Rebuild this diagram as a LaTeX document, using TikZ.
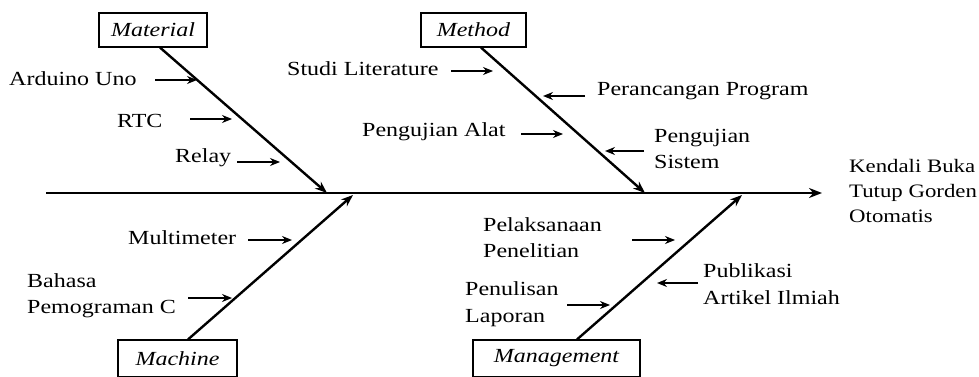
\documentclass[tikz,border=0pt]{standalone}
\usepackage{fontspec}
\setmainfont{Liberation Serif}[FakeStretch=1.2]
\usetikzlibrary{arrows.meta}
\begin{document}
\begin{tikzpicture}[x=1pt,y=-1pt,
  every node/.style={font=\fontsize{20}{26}\selectfont, inner sep=0pt},
  lbl/.style={anchor=base west, align=left},
  catbox/.style={draw, line width=1.1pt, font=\fontsize{20}{26}\selectfont\itshape},
  bone/.style={line width=2.4pt, -{Stealth[length=12pt,width=9pt]}},
  spine/.style={line width=2.4pt, -{Stealth[length=13pt,width=10pt]}},
  sarr/.style={line width=1.3pt, -{Stealth[length=10pt,width=8pt]}}]
\useasboundingbox (0,0) rectangle (979,377);
% category boxes
\node[catbox, minimum width=108pt, minimum height=34pt] (mat) at (153,30) {Material};
\node[catbox, minimum width=105pt, minimum height=34pt] (met) at (473.5,30) {Method};
\node[catbox, minimum width=119pt, minimum height=37pt] (mac) at (177.5,358.5) {Machine};
\node[catbox, minimum width=167pt, minimum height=37pt] (man) at (556.5,358.5) {Management};
% spine
\coordinate (sp0) at (46,193);
\coordinate (sp1) at (822,193);
\draw[spine] (sp0) -- (sp1);
\node[lbl, font=\fontsize{19}{25}\selectfont] (eff) at (849,222) {Kendali Buka\\Tutup Gorden\\Otomatis};
% bones
\coordinate (b1) at (327,193);
\coordinate (b2) at (645,193);
\coordinate (b3) at (353,195);
\coordinate (b4) at (742,195);
\draw[bone] ([xshift=7pt]mat.south) -- (b1);
\draw[bone] ([xshift=7.5pt]met.south) -- (b2);
\draw[bone] ([xshift=10.5pt]mac.north) -- (b3);
\draw[bone] ([xshift=20.5pt]man.north) -- (b4);
% Material causes
\node[lbl] (t1) at (9,86) {Arduino Uno};
\node[lbl] (t2) at (117,128) {RTC};
\node[lbl] (t3) at (175,162) {Relay};
\draw[sarr] (155,80) -- (197,80);
\draw[sarr] (190,119) -- (232,119);
\draw[sarr] (237,162) -- (280,162);
% Method causes
\node[lbl] (t4) at (287,76) {Studi Literature};
\node[lbl] (t5) at (597,96) {Perancangan Program};
\node[lbl] (t6) at (362,136) {Pengujian Alat};
\node[lbl] (t7) at (654,168) {Pengujian\\Sistem};
\draw[sarr] (451,71) -- (493,71);
\draw[sarr] (585,96) -- (543,96);
\draw[sarr] (521,134) -- (563,134);
\draw[sarr] (644,151) -- (605,151);
% Machine causes
\node[lbl] (t8) at (128,244) {Multimeter};
\node[lbl] (t9) at (27,313) {Bahasa\\Pemograman C};
\draw[sarr] (248,240) -- (292,240);
\draw[sarr] (188,298) -- (232,298);
% Management causes
\node[lbl] (t10) at (483,257) {Pelaksanaan\\Penelitian};
\node[lbl, font=\fontsize{20}{27}\selectfont] (t11) at (465,322) {Penulisan\\Laporan};
\node[lbl, font=\fontsize{20}{27}\selectfont] (t12) at (703,304) {Publikasi\\Artikel Ilmiah};
\draw[sarr] (632,240) -- (675,240);
\draw[sarr] (567,305) -- (610,305);
\draw[sarr] (698,283) -- (657,283);
\end{tikzpicture}
\end{document}
